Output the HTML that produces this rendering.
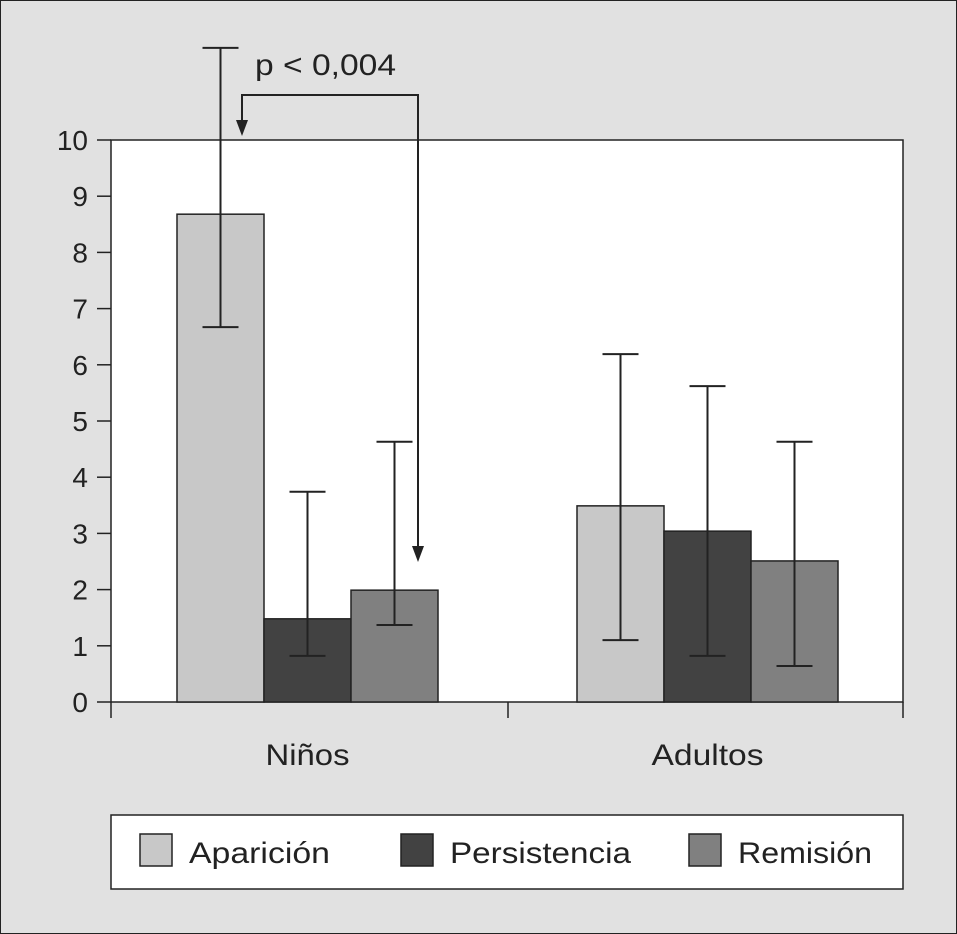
<!DOCTYPE html>
<html><head><meta charset="utf-8"><style>
html,body{margin:0;padding:0;background:#e1e1e1;}
svg{display:block;font-family:"Liberation Sans",Arial,sans-serif;}
</style></head><body>
<svg width="957" height="934" viewBox="0 0 957 934">
<rect x="0.5" y="0.5" width="956" height="933" fill="#e1e1e1" stroke="#222"/>
<rect x="111" y="140" width="792" height="562" fill="#fff" stroke="#222" stroke-width="1.5"/>
<g id="yaxis"></g>
<g id="bars"></g>
<g id="xaxis"></g>
<g>
<text x="255" y="75" font-size="30" fill="#222" textLength="141" lengthAdjust="spacingAndGlyphs">p &lt; 0,004</text>
<polyline points="242,125 242,95 418,95 418,548" fill="none" stroke="#222" stroke-width="2"/>
<polygon points="236,120 248,120 242,136" fill="#222"/>
<polygon points="412,546 424,546 418,562" fill="#222"/>
</g>
<g>
<rect x="111" y="815" width="792" height="74" fill="#fff" stroke="#222" stroke-width="1.5"/>
<rect x="140" y="834" width="32" height="32" fill="#c8c8c8" stroke="#222" stroke-width="1.5"/>
<text x="189" y="863" font-size="30" fill="#222" textLength="141" lengthAdjust="spacingAndGlyphs">Aparición</text>
<rect x="401" y="834" width="32" height="32" fill="#424242" stroke="#222" stroke-width="1.5"/>
<text x="450" y="863" font-size="30" fill="#222" textLength="181" lengthAdjust="spacingAndGlyphs">Persistencia</text>
<rect x="689" y="834" width="32" height="32" fill="#808080" stroke="#222" stroke-width="1.5"/>
<text x="738" y="863" font-size="30" fill="#222" textLength="134" lengthAdjust="spacingAndGlyphs">Remisión</text>
</g>
</svg>
<script>
const categories = ["Niños", "Adultos"];
const categoryWidths = [84, 112];
const seriesNames = ["Aparición", "Persistencia", "Remisión"];
const seriesColors = ["#c8c8c8", "#424242", "#808080"];
const aparicion = [8.68, 3.49];
const persistencia = [1.48, 3.04];
const remision = [1.99, 2.51];
const errHigh = [[11.64, 6.19], [3.74, 5.62], [4.63, 4.63]];
const errLow = [[6.67, 1.10], [0.82, 0.82], [1.37, 0.64]];
const yTicks = [0,1,2,3,4,5,6,7,8,9,10];
const series = [aparicion, persistencia, remision];
const NS = "http://www.w3.org/2000/svg";
const y0 = 702, pxPerUnit = 56.2;
function yScale(v){ return y0 - v * pxPerUnit; }
const groupStart = [177, 577], barW = 87;
function xBar(ci, si){ return groupStart[ci] + si * barW; }
function mk(tag, attrs, parent){ const e=document.createElementNS(NS,tag); for(const k in attrs) e.setAttribute(k, attrs[k]); parent.appendChild(e); return e; }
const yaxis = document.getElementById('yaxis');
yTicks.forEach(t=>{
  const l = mk('line',{x1:97,x2:111,y1:yScale(t),y2:yScale(t),stroke:'#222','stroke-width':1.5},yaxis);
  
  
  const tx = mk('text',{x:88,y:yScale(t)+10,'font-size':28,'text-anchor':'end',fill:'#222'},yaxis);
  tx.textContent = t;
  
  
});
const bars = document.getElementById('bars');
series.forEach((s,si)=>{
  s.forEach((v,ci)=>{
    const x = xBar(ci,si);
    const r = mk('rect',{x:x,y:yScale(v),width:barW,height:y0-yScale(v),fill:seriesColors[si],stroke:'#222','stroke-width':1.5},bars);
    
    
    const cx = x + barW/2, hi = yScale(errHigh[si][ci]), lo = yScale(errLow[si][ci]);
    const e = mk('path',{d:`M${cx},${hi}V${lo}M${cx-18},${hi}H${cx+18}M${cx-18},${lo}H${cx+18}`,stroke:'#222','stroke-width':2,fill:'none'},bars);
    
    
  });
});
const xaxis = document.getElementById('xaxis');
[111,508,903].forEach(x=>{
  const l = mk('line',{x1:x,x2:x,y1:702,y2:718,stroke:'#222','stroke-width':1.5},xaxis);
  
  
});
categories.forEach((c,ci)=>{
  const tx = mk('text',{x:groupStart[ci]+barW*1.5,y:765,'font-size':30,'text-anchor':'middle',fill:'#222',textLength:categoryWidths[ci],lengthAdjust:'spacingAndGlyphs'},xaxis);
  tx.textContent = c;
  
  
});
</script>
</body></html>
